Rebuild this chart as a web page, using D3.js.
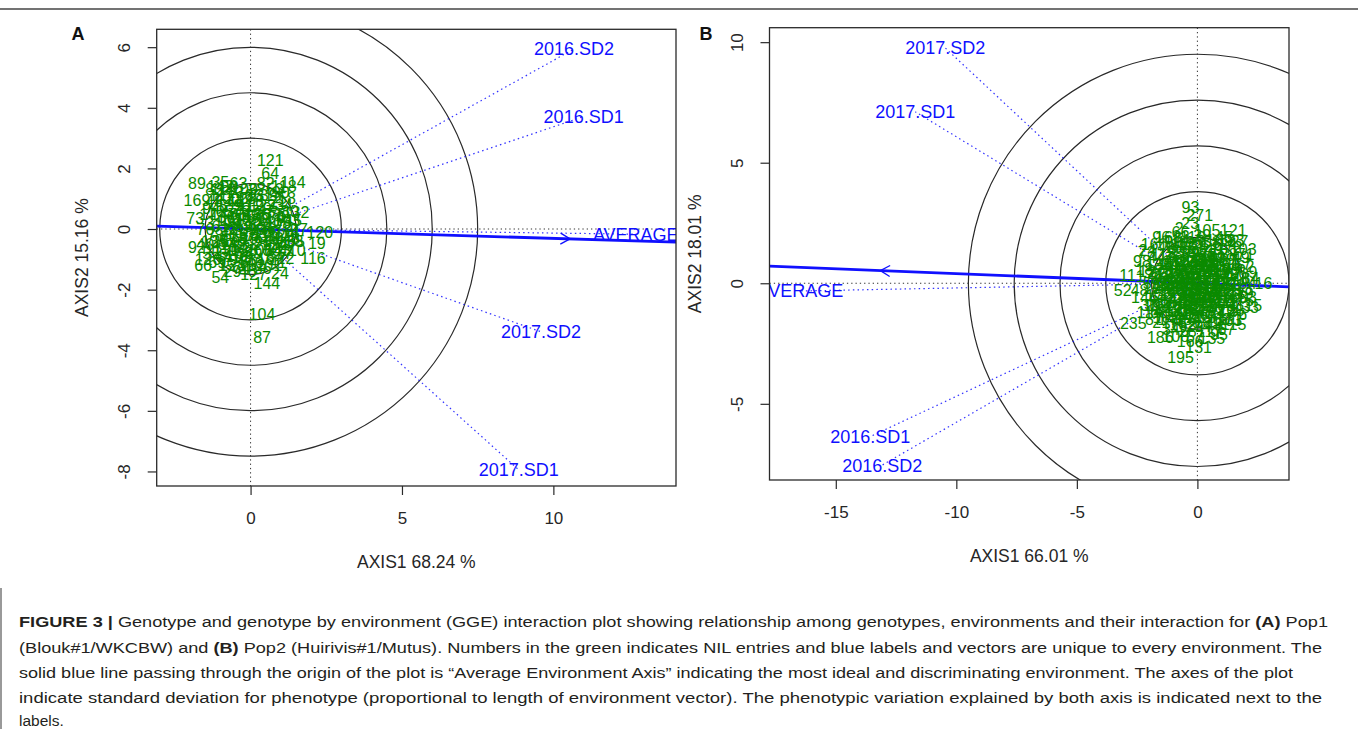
<!DOCTYPE html>
<html><head><meta charset="utf-8">
<script src="https://cdn.jsdelivr.net/npm/d3@7/dist/d3.min.js"></script>
<style>
body{margin:0;background:#fff}
svg{display:block}
text{font-family:"Liberation Sans",Arial,Helvetica,sans-serif}
</style>
</head><body>
<svg id="c" width="1358" height="729"></svg>
<script>
// ---------------- Panel A data ----------------
const xTicksA = [0, 5, 10];
const yTicksA = [-8, -6, -4, -2, 0, 2, 4, 6];
const circlesA = [1.5, 3, 4.5, 6, 7.5];
const envNamesA = ["2016.SD2", "2016.SD1", "2017.SD2", "2017.SD1"];
const envXA = [10.68, 11.0, 9.59, 8.86];
const envYA = [5.94, 3.71, -3.39, -7.95];
const avgA = [12.72, -0.17];
const aeaSlopeA = -0.031;
const arrowXA = 10.55;
const genoA = [
[121,0.65,2.28],[64,0.65,1.85],[89,-1.77,1.52],[35,-1.0,1.55],[114,1.4,1.55],[169,-1.77,0.95],
[73,-1.83,0.36],[92,-1.77,-0.6],[66,-1.57,-1.19],[54,-1.0,-1.58],[144,0.54,-1.78],[24,0.97,-1.45],
[116,2.06,-0.96],[19,2.19,-0.46],[120,2.29,-0.1],[132,1.5,0.56],[104,0.38,-2.81],[87,0.38,-3.56],
[77,1.1,-0.8],[22,1.15,-0.95],
[1,-0.4,0.3],[2,0.2,-0.5],[3,-0.9,0.8],[4,0.6,0.1],[5,-0.2,-1.1],[6,1.0,0.4],[7,-1.3,-0.2],[8,0.3,0.9],
[9,-0.6,-0.7],[10,0.8,-0.3],[11,-1.1,1.1],[12,0.1,0.2],[13,-0.5,1.2],[14,1.3,-0.1],[15,-0.8,-1.2],
[16,0.5,-1.0],[17,-1.4,0.5],[18,0.0,-0.2],[20,-0.3,0.7],[21,0.9,0.9],[23,-0.7,0.0],[25,0.4,0.5],
[26,-1.0,-0.4],[27,1.2,-0.6],[28,-0.1,1.0],[29,-0.6,-1.4],[30,0.7,-0.7],[31,-1.2,0.2],[32,0.2,1.3],
[33,-0.4,-0.3],[34,1.1,0.8],[36,-0.8,0.4],[37,0.0,0.6],[38,-0.2,-0.8],[39,0.6,1.1],[40,-1.5,-0.5],
[41,0.9,-1.1],[42,-0.5,0.9],[43,0.3,-0.2],[44,-0.9,-0.9],[45,1.4,0.3],[46,-0.1,-1.4],[47,0.5,0.6],
[48,-1.2,0.9],[49,0.1,-0.8],[50,-0.7,1.4],[51,1.0,-0.5],[52,-0.3,-0.6],[53,0.8,1.3],[55,-1.3,-0.8],
[56,0.4,-1.3],[57,-0.6,0.6],[58,1.2,1.0],[59,-0.2,0.1],[60,0.7,-0.1],[61,-1.0,0.1],[62,0.2,-1.2],
[63,-0.4,1.5],[65,1.5,-0.4],[67,-0.8,-0.5],[68,0.0,0.4],[69,-1.1,-1.1],[70,0.6,-0.6],[71,-0.5,-0.1],
[72,1.1,0.1],[74,-0.3,-1.3],[75,0.9,0.5],[76,-1.5,0.0],[78,0.3,0.3],[79,-0.7,-1.0],[80,1.3,0.6],
[81,-0.1,-0.5],[82,0.5,1.5],[83,-1.2,1.3],[84,0.8,-0.9],[85,-0.4,0.5],[86,0.1,1.1],[88,-0.9,-0.2],
[90,1.0,1.2],[91,-0.2,0.8],[93,0.4,-0.4],[94,-1.3,0.7],[95,0.7,0.7],[96,-0.6,0.2],[97,1.6,0.0],
[98,-0.1,-1.0],[99,0.2,0.0],[100,-0.8,1.0],[101,0.6,-1.2],[102,-0.4,-0.9],[103,1.2,0.3],[105,-1.0,0.6],
[106,0.3,-0.7],[107,-0.5,-0.4],[108,0.9,0.2],[109,-0.2,1.3],[110,1.4,-0.7],[111,-1.1,-0.6],[112,0.0,0.8],
[113,-0.7,0.3],[115,0.5,-0.1],[117,-0.3,-0.2],[118,1.1,1.4],[119,-0.9,1.3],[122,0.4,0.8],[123,-0.6,-1.2],
[124,0.8,-0.5],[125,-0.1,0.3],[126,-1.4,-1.0],[127,0.1,-1.5],[128,-0.5,0.0],[129,1.0,-0.2],[130,-0.8,-0.7],
[131,0.3,1.1],[133,-0.2,-0.7],[134,0.7,0.4],[135,-1.2,-0.4],[136,0.2,0.5],[137,-0.4,1.0],[138,1.3,-0.4],
[139,-0.7,0.8],[140,0.0,-1.1],[141,0.6,0.3],[142,-1.0,1.4],[143,0.9,-0.7],[145,-0.3,0.4],[146,0.4,0.0],
[147,-0.9,0.5],[148,1.2,-0.3],[149,-0.6,-0.5],[150,0.1,-0.3]
];

// ---------------- Panel B data ----------------
const xTicksB = [-15, -10, -5, 0];
const yTicksB = [-5, 0, 5, 10];
const circlesB = [1.9, 3.8, 5.7, 7.6, 9.5];
const envNamesB = ["2017.SD2", "2017.SD1", "2016.SD1", "2016.SD2"];
const envXB = [-10.46, -11.70, -13.57, -13.07];
const envYB = [9.76, 7.11, -6.36, -7.54];
const avgB = [-16.47, -0.32];
const aeaSlopeB = -0.04;
const arrowXB = -13.15;
const genoB = [
[93,-0.29,3.16],[271,0.1,2.83],[121,1.49,2.21],[195,-0.7,-3.05],[131,0.05,-2.64],[186,-1.54,-2.22],
[235,-2.66,-1.66],[52,-3.1,-0.28],[11,-2.9,0.34],[24,-2.07,1.38],[63,1.49,-1.52],[15,2.32,-0.9],
[16,2.74,0.0],[27,1.75,1.75],[71,2.0,1.2],[9,2.3,0.45],[2,-0.75,2.3],[23,-0.3,2.5],
[1,-0.5,0.4],[3,0.8,-0.3],[4,-1.2,1.0],[5,0.3,1.6],[6,-1.8,-0.6],[7,1.5,0.9],[8,-0.2,-1.5],[10,0.9,1.4],
[12,-1.0,-1.1],[13,1.9,-0.2],[14,-0.7,1.8],[17,0.4,-0.8],[18,-2.2,0.6],[19,1.2,-1.2],[20,-0.1,0.9],
[21,-1.5,-1.6],[22,0.6,0.2],[25,-0.9,-0.2],[26,1.7,0.4],[28,-0.4,-2.0],[29,0.2,2.0],[30,-1.6,0.2],
[31,1.0,-0.7],[32,-0.3,1.2],[33,2.1,-0.6],[34,-1.1,-1.9],[35,0.5,1.0],[36,-2.0,-0.9],[37,1.3,0.0],
[38,-0.6,-0.9],[39,0.0,1.6],[40,-1.3,1.5],[41,1.6,-0.9],[42,-0.2,-0.4],[43,0.7,-1.7],[44,-1.7,1.1],
[45,1.1,1.9],[46,-0.8,0.7],[47,0.3,-1.2],[48,-2.4,-0.3],[49,1.8,1.1],[50,-0.5,-1.3],[51,0.9,0.6],
[53,-1.4,-0.4],[54,0.1,-0.1],[55,-0.9,1.3],[56,1.4,-0.5],[57,-0.1,-2.2],[58,0.6,1.7],[59,-1.9,0.0],
[60,1.0,-1.5],[61,-0.4,0.0],[62,2.0,0.7],[64,-1.2,-0.7],[65,0.4,0.5],[66,-0.7,2.1],[67,1.2,-1.9],
[68,-1.6,-1.2],[69,0.8,1.1],[70,-0.3,-0.7],[72,1.5,1.5],[73,-2.1,1.3],[74,0.2,-1.8],[75,-0.8,-1.6],
[76,1.7,-1.3],[77,-0.1,0.5],[78,0.5,-0.5],[79,-1.4,0.6],[80,1.1,0.3],[81,-0.6,1.0],[82,0.0,-0.9],
[83,-1.1,0.1],[84,2.2,0.2],[85,-0.4,1.5],[86,0.7,-1.0],[87,-1.8,-1.5],[88,1.3,1.2],[89,-0.2,-1.1],
[90,0.3,0.8],[91,-1.0,1.7],[92,1.6,-0.1],[94,-0.5,-0.5],[95,0.9,-2.1],[96,-1.5,1.9],[97,0.1,1.3],
[98,-2.3,0.9],[99,1.4,0.6],[100,-0.7,-0.3],[101,0.6,-1.4],[102,-1.3,-1.4],[103,1.9,1.4],[104,-0.3,0.3],
[105,0.4,2.2],[106,-1.7,-0.2],[107,1.0,0.0],[108,-0.9,-2.2],[109,0.2,-0.6],[110,-1.1,0.8],[111,1.2,-0.8],
[112,-0.6,1.6],[113,0.8,0.4],[114,-2.0,-1.2],[115,1.5,-1.7],[116,-0.2,1.9],[117,0.5,-2.0],[118,-1.4,1.2],
[119,1.8,-0.4],[120,-0.5,0.8],[122,0.0,0.2],[123,-1.0,-0.5],[124,1.1,1.6],[125,-0.8,-1.0],[126,0.3,-0.2],
[127,-1.9,0.5],[128,1.4,-1.1],[129,-0.3,-1.8],[130,0.7,0.9],[132,-1.2,0.3],[133,2.0,-1.0],[134,-0.1,-0.3],
[135,0.6,-2.3],[136,-1.6,0.8],[137,1.3,0.4],[138,-0.7,0.2],[139,0.2,1.1],[140,-1.1,-1.5],[141,0.9,-0.6],
[142,-0.4,-1.0],[143,1.6,0.2],[144,-2.2,-0.6],[145,0.1,0.7],[146,-0.9,0.4],[147,1.0,-1.2],[148,-0.2,0.1],
[149,0.5,1.4],[150,-1.5,-0.9],[151,1.2,0.8],[152,-0.6,-1.7],[153,0.4,0.1],[154,-1.3,-0.1],[155,0.8,-0.2],
[156,-0.1,-1.3],[157,1.7,0.8],[158,-0.8,1.5],[159,0.3,-1.0],[160,-1.8,1.6],[161,1.1,-0.3],[162,-0.4,0.6],
[163,0.6,0.7],[164,-1.0,-0.8],[165,1.5,-0.6],[166,-0.3,-2.4],[167,0.2,0.4],[168,-1.2,1.9],[169,0.9,1.8],
[170,-0.5,-0.2],[171,1.3,-1.5],[172,-1.6,-0.5],[173,0.0,-0.5],[174,-0.7,0.5],[175,1.8,-0.7],[176,-2.0,0.3],
[177,0.7,-0.8],[178,-0.2,1.0],[179,1.0,1.0],[180,-1.1,-0.3],[181,0.4,-1.6],[182,-0.9,0.9],[183,1.4,1.8],
[184,-0.4,-1.5],[185,0.1,-0.7],[187,-1.4,0.0],[188,0.8,0.0],[189,-0.6,-0.6],[190,1.2,0.5],[191,-0.1,0.4],
[192,0.5,-0.3],[193,-1.7,-0.9],[194,1.9,0.0],[196,-0.3,1.7],[197,0.6,-1.1],[198,-1.0,0.0],[199,0.3,0.6],
[200,-0.8,-1.3],[201,0.0,0.0],[202,-0.5,0.2],[203,0.4,-0.6],[204,-0.2,-0.8],[205,0.7,0.5],[206,-1.0,0.5],
[207,0.2,-0.4],[208,-0.3,-0.1],[209,1.0,-0.9],[210,-0.7,-0.8],[211,0.5,0.3],[212,-0.1,0.7],[213,0.9,-0.4],
[214,-1.2,-1.0],[215,0.3,1.2],[216,-0.6,1.3],[217,1.1,-0.1],[218,-0.4,0.9],[219,0.1,-1.4],[220,-0.9,-0.1],
[221,0.6,1.2],[222,-1.5,0.4],[223,0.2,0.9],[224,-0.2,-0.6],[225,1.3,-0.3],[226,-0.8,0.0],[227,0.4,-0.9],
[228,-0.5,-1.1],[229,0.8,0.7],[230,-1.3,0.8]
];

const caption = [
  [["FIGURE 3 |",1],[" Genotype and genotype by environment (GGE) interaction plot showing relationship among genotypes, environments and their interaction for ",0],["(A)",1],[" Pop1",0]],
  [["(Blouk#1/WKCBW) and ",0],["(B)",1],[" Pop2 (Huirivis#1/Mutus). Numbers in the green indicates NIL entries and blue labels and vectors are unique to every environment. The",0]],
  [["solid blue line passing through the origin of the plot is \u201CAverage Environment Axis\u201D indicating the most ideal and discriminating environment. The axes of the plot",0]],
  [["indicate standard deviation for phenotype (proportional to length of environment vector). The phenotypic variation explained by both axis is indicated next to the",0]],
  [["labels.",0]]
];

// ---------------- drawing ----------------
const svg = d3.select("#c");
const defs = svg.append("defs");
const BLUE = "#1010ff", GREEN = "#0a8a00", INK = "#262626";

// frame
svg.append("line").attr("x1",0).attr("x2",1358).attr("y1",9).attr("y2",9).attr("stroke","#444").attr("stroke-width",1.6);
svg.append("line").attr("x1",1).attr("x2",1).attr("y1",588).attr("y2",729).attr("stroke","#555").attr("stroke-width",1.2);

function panel(o){
  const x = d3.scaleLinear().domain(o.xDom).range([o.left,o.right]);
  const y = d3.scaleLinear().domain(o.yDom).range([o.bottom,o.top]);
  defs.append("clipPath").attr("id","clip"+o.key).append("rect")
    .attr("x",o.left).attr("y",o.top).attr("width",o.right-o.left).attr("height",o.bottom-o.top);
  const g = svg.append("g");
  const p = g.append("g").attr("clip-path",`url(#clip${o.key})`);
  const k = x(1)-x(0);

  p.selectAll("circle.ring").data(o.circles).join("circle").attr("class","ring")
    .attr("cx",x(0)).attr("cy",y(0)).attr("r",d=>d*k)
    .attr("fill","none").attr("stroke","#2a2a2a").attr("stroke-width",1.2);

  // dotted axes through origin
  p.append("line").attr("x1",x(0)).attr("x2",x(0)).attr("y1",o.top).attr("y2",o.bottom)
    .attr("stroke","#333").attr("stroke-width",1).attr("stroke-dasharray","1.3,3");
  p.append("line").attr("x1",o.left).attr("x2",o.right).attr("y1",y(0)).attr("y2",y(0))
    .attr("stroke","#333").attr("stroke-width",1).attr("stroke-dasharray","1.3,3");

  // environment vectors
  const envs = o.names.map((n,i)=>({n, x:o.ex[i], y:o.ey[i]}));
  p.selectAll("line.env").data(envs).join("line").attr("class","env")
    .attr("x1",x(0)).attr("y1",y(0)).attr("x2",d=>x(d.x)).attr("y2",d=>y(d.y))
    .attr("stroke",BLUE).attr("stroke-width",1.2).attr("stroke-dasharray","1.5,3.2").attr("opacity",0.85);
  p.append("line").attr("x1",x(0)).attr("y1",y(0)).attr("x2",x(o.avg[0])).attr("y2",y(o.avg[1]))
    .attr("stroke",BLUE).attr("stroke-width",1.2).attr("stroke-dasharray","1.5,3.2").attr("opacity",0.85);

  // average environment axis
  p.append("line").attr("x1",x(o.xDom[0])).attr("y1",y(o.slope*o.xDom[0]))
    .attr("x2",x(o.xDom[1])).attr("y2",y(o.slope*o.xDom[1]))
    .attr("stroke",BLUE).attr("stroke-width",2.8);
  // arrow head
  const ax = x(o.arrowX), ay = y(o.slope*o.arrowX);
  const dirx = o.arrowDir, ang = Math.atan2(-(o.slope)*k*dirx, dirx*k);
  [Math.PI*5/6, -Math.PI*5/6].forEach(a=>{
    p.append("line").attr("x1",ax).attr("y1",ay)
      .attr("x2",ax+11*Math.cos(ang+a)).attr("y2",ay+11*Math.sin(ang+a))
      .attr("stroke",BLUE).attr("stroke-width",1.3);
  });

  // genotype labels
  p.selectAll("text.geno").data(o.geno).join("text").attr("class","geno")
    .attr("x",d=>x(d[1])).attr("y",d=>y(d[2])).attr("dy","0.36em")
    .attr("text-anchor","middle").attr("font-size",16).attr("fill",GREEN).text(d=>d[0]);

  // environment labels
  p.selectAll("text.envl").data(envs).join("text").attr("class","envl")
    .attr("x",d=>x(d.x)).attr("y",d=>y(d.y)).attr("dy","0.36em")
    .attr("text-anchor","middle").attr("font-size",18).attr("fill",BLUE).text(d=>d.n);
  p.append("text").attr("x",x(o.avg[0])).attr("y",y(o.avg[1])).attr("dy","0.36em")
    .attr("text-anchor","middle").attr("font-size",18).attr("fill",BLUE).text("AVERAGE");

  // box
  g.append("rect").attr("x",o.left).attr("y",o.top).attr("width",o.right-o.left).attr("height",o.bottom-o.top)
    .attr("fill","none").attr("stroke","#2a2a2a").attr("stroke-width",1.3);

  // axes
  const xa = g.append("g").attr("transform",`translate(0,${o.bottom})`)
    .call(d3.axisBottom(x).tickValues(o.xt).tickSize(9).tickFormat(d3.format("d")));
  xa.select(".domain").remove();
  xa.selectAll("line").attr("stroke","#2a2a2a").attr("stroke-width",1.2);
  xa.selectAll("text").attr("y",32).attr("dy","0.36em").attr("font-size",17)
    .attr("fill",INK).attr("font-family","Liberation Sans, Arial, sans-serif")
    .text(d=>d<0?"-"+Math.abs(d):d);
  const ya = g.append("g").attr("transform",`translate(${o.left},0)`)
    .call(d3.axisLeft(y).tickValues(o.yt).tickSize(9));
  ya.select(".domain").remove();
  ya.selectAll("line").attr("stroke","#2a2a2a").attr("stroke-width",1.2);
  ya.selectAll("text").attr("x",0).attr("dy","0.36em").attr("text-anchor","middle")
    .attr("transform","translate(-33,0) rotate(-90)").attr("font-size",17)
    .attr("fill",INK).attr("font-family","Liberation Sans, Arial, sans-serif")
    .text(d=>d<0?"-"+Math.abs(d):d);

  // titles
  g.append("text").attr("x",(o.left+o.right)/2).attr("y",o.bottom+76).attr("dy","0.36em")
    .attr("text-anchor","middle").attr("font-size",17.5).attr("fill",INK).text(o.xlab);
  g.append("text").attr("transform",`translate(${o.left-75},${(o.top+o.bottom)/2}) rotate(-90)`)
    .attr("dy","0.36em").attr("text-anchor","middle").attr("font-size",17.5).attr("fill",INK).text(o.ylab);
  g.append("text").attr("x",o.tagX).attr("y",34).attr("dy","0.36em").attr("text-anchor","middle")
    .attr("font-size",18).attr("font-weight","bold").attr("fill","#111").text(o.key);
}

panel({key:"A", left:156.7, right:676, top:29.3, bottom:486, xDom:[-3.1,14.05], yDom:[-8.48,6.59],
  circles:circlesA, names:envNamesA, ex:envXA, ey:envYA, avg:avgA, slope:aeaSlopeA, arrowX:arrowXA, arrowDir:1,
  geno:genoA, xt:xTicksA, yt:yTicksA, xlab:"AXIS1 68.24 %", ylab:"AXIS2 15.16 %", tagX:78});
panel({key:"B", left:769.5, right:1289, top:27.7, bottom:480, xDom:[-17.75,3.8], yDom:[-8.16,10.6],
  circles:circlesB, names:envNamesB, ex:envXB, ey:envYB, avg:avgB, slope:aeaSlopeB, arrowX:arrowXB, arrowDir:-1,
  geno:genoB, xt:xTicksB, yt:yTicksB, xlab:"AXIS1 66.01 %", ylab:"AXIS2 18.01 %", tagX:706});

// caption
const capY = [621, 647, 672, 697, 720];
const capW = [1309, 1303, 1274, 1303, null];
caption.forEach((parts,i)=>{
  const t = svg.append("text").attr("x",19).attr("y",capY[i]).attr("dy","0.36em")
    .attr("font-size",15.5).attr("fill","#231f20");
  parts.forEach(pt=>{
    t.append("tspan").attr("font-weight",pt[1]?"bold":"normal").text(pt[0]);
  });
  if(capW[i]) t.attr("textLength",capW[i]).attr("lengthAdjust","spacingAndGlyphs");
});
</script>
</body></html>
